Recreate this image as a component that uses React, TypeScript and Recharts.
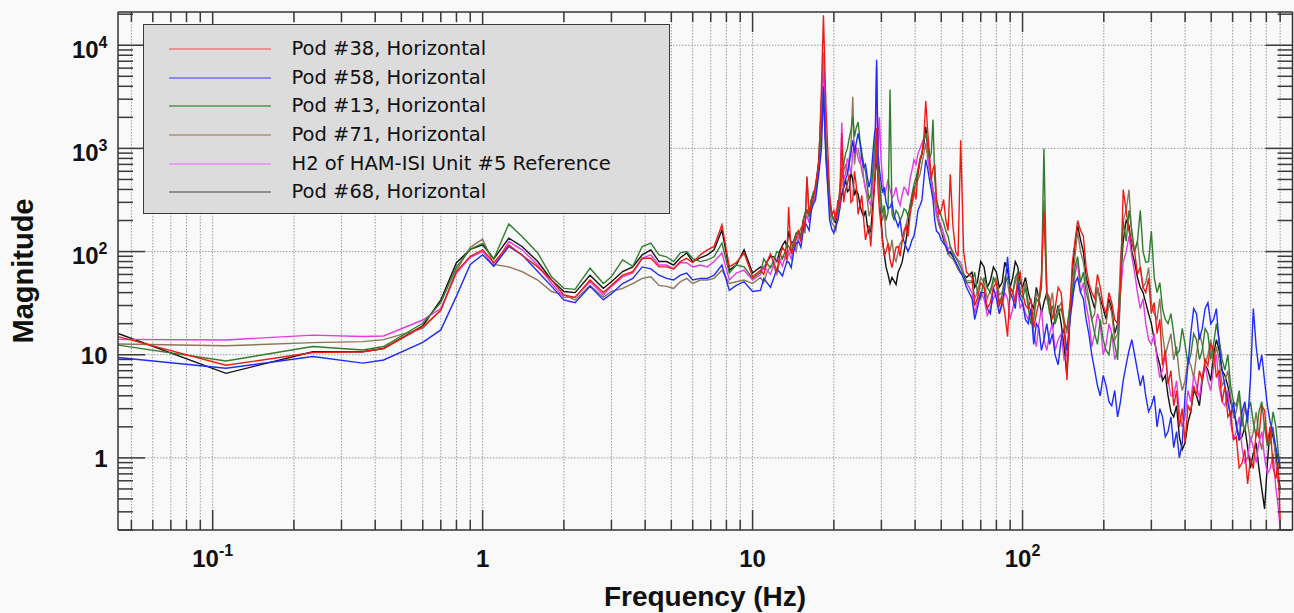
import React from 'react';
import { LineChart, Line, XAxis, YAxis, CartesianGrid, Legend, Label } from 'recharts';

// ---------------- data ----------------
const FREQ_HZ = [
  0.0446, 0.112, 0.235, 0.36, 0.43, 0.6, 0.7,
  0.8, 0.9, 1.0, 1.1, 1.25, 1.4, 1.6, 1.8, 2.0, 2.2, 2.5, 2.8, 3.0,
  3.3, 3.6, 3.9, 4.2, 4.5, 4.8, 5.1, 5.4, 5.7, 6.0, 6.4, 6.8, 7.2, 7.7, 8.2, 8.7, 9.3, 10,
  10.7, 11.0, 11.3, 11.65, 12, 12.3, 12.6, 12.9, 13.2, 13.4,
  13.6, 13.9, 14.2, 14.5, 14.8, 15.1, 15.4, 15.65, 15.9, 16.2,
  16.5, 16.8, 17.1, 17.6, 18.0, 18.3, 18.7, 19.3, 19.65, 20,
  20.35, 20.7, 21.05, 21.4, 21.75, 22.1, 22.45, 22.8, 23.15, 23.5,
  23.85, 24.2, 24.6, 25, 25.4, 25.8, 26.2, 26.6, 27.0, 27.4,
  27.8, 28.2, 28.5, 28.8, 29.15, 29.5, 29.9, 30.3, 30.75, 31.2,
  31.75, 32.3, 32.85, 33.4, 34.0, 34.6, 35.2, 35.8, 36.4, 37,
  37.65, 38.3, 38.95, 39.6, 40.3, 41, 41.7, 42.4, 43.1, 43.8,
  44.5, 45.2, 45.9, 46.6, 47.3, 48, 49, 50, 51, 52,
  53, 54, 55.2, 56.5, 57.7, 59, 60.5, 62,
  65, 66.5, 68, 70, 72, 74, 76, 78, 80, 82,
  84, 86, 88, 90, 92, 94, 96, 98, 100, 102.5,
  105, 107.5, 110, 112.5, 115, 117.5, 120, 123, 126, 129,
  132, 135.5, 139, 142.5, 146, 149.5, 153, 156.5, 160, 164,
  168, 172, 176, 180.5, 185, 189.5, 194, 199, 204, 209,
  214, 219.5, 225, 230.5, 236, 242, 248, 254, 260, 266.5,
  273, 279.5, 286, 293, 300, 307.5, 315, 322.5, 330, 338,
  346, 354.5, 363, 372, 381, 390.5, 400, 410, 420, 430.5,
  441, 452, 463, 474.5, 486, 498, 510, 522.5, 535, 548.5,
  562, 576, 590, 604.5, 619, 634.5, 650, 666, 682, 699,
  716, 733.5, 751, 769.5, 788, 807.5, 827, 847.5, 868, 884, 900,
];

const POD38_H = [
  15, 7.9, 10.5, 10.7, 11.5, 18.7, 27, 64, 90, 104, 78, 116, 92, 71, 53, 38, 36, 53, 40, 47,
  59, 64, 86, 86, 71, 71, 68, 80, 86, 78, 93, 104, 112, 182, 71, 78, 97, 57,
  66, 60, 79, 95, 76, 65, 89, 110, 100, 85,
  270, 95, 112, 135, 158, 125, 200, 170, 525, 230,
  282, 330, 447, 708, 3980, 19500, 2510, 355, 230, 251,
  200, 316, 260, 1410, 300, 398, 450, 562, 300, 316,
  600, 447, 230, 282, 350, 200, 130, 158, 180, 112,
  200, 398, 600, 1580, 400, 251, 180, 126, 90, 100,
  120, 83, 70, 89, 110, 112, 90, 126, 160, 178,
  140, 224, 300, 398, 320, 603, 800, 891, 1300, 2880,
  1500, 891, 500, 631, 700, 316, 230, 251, 320, 200,
  160, 562, 180, 100, 90, 1200, 100, 63,
  56, 30, 35, 50, 45, 28, 32, 45, 50, 30,
  35, 25, 15, 45, 40, 32, 56, 63, 40, 30,
  28, 35, 18, 25, 32, 60, 251, 40, 35, 22,
  28, 45, 40, 20, 5.7, 25, 79, 126, 200, 160,
  141, 70, 50, 40, 35, 60, 45, 30, 25, 40,
  32, 22, 20, 45, 398, 250, 158, 120, 100, 60,
  71, 45, 40, 55, 25, 32, 16, 22, 7.9, 11,
  5.2, 7, 3.2, 4.5, 2.0, 3.0, 1.4, 3.2, 2.8, 5.0,
  4.0, 7.0, 5.6, 9.0, 7.9, 13, 11, 6, 7.1, 3.5,
  5.0, 2.5, 2.8, 1.5, 1.6, 0.8, 0.89, 1.2, 0.56, 1.0,
  0.79, 1.8, 1.6, 3.2, 2.9, 1.4, 2.0, 0.8, 0.63, 0.9, 0.25,
];

const POD58_H = [
  9.4, 7.4, 9.6, 8.3, 8.9, 13.2, 17.4, 37, 75, 93, 72, 112, 93, 64, 46, 34, 32, 46, 34, 39,
  49, 55, 71, 68, 59, 55, 53, 59, 62, 53, 55, 55, 59, 74, 42, 47, 51, 41,
  42, 55, 50, 45, 56, 68, 63, 58, 71, 80,
  79, 70, 100, 120, 126, 110, 158, 190, 178, 160,
  251, 290, 316, 575, 1000, 3980, 794, 200, 165, 151,
  180, 200, 260, 355, 420, 501, 560, 708, 900, 1200,
  900, 1120, 1400, 1120, 800, 661, 700, 537, 420, 501,
  800, 1260, 1600, 7240, 900, 631, 480, 372, 420, 302,
  260, 269, 300, 224, 200, 174, 200, 141, 125, 112,
  100, 112, 130, 141, 180, 251, 280, 316, 500, 776,
  640, 501, 400, 316, 200, 158, 150, 129, 120, 112,
  100, 96, 90, 79, 72, 63, 55, 45,
  35, 22, 28, 40, 40, 28, 25, 45, 35, 25,
  32, 45, 89, 40, 35, 28, 50, 35, 32, 22,
  20, 28, 12.6, 20, 18, 11, 14, 20, 12.6, 16,
  10, 8, 14, 18, 11, 20, 35, 50, 56, 40,
  35, 22, 16, 10, 7.1, 5.0, 4.0, 6.3, 5.0, 3.5,
  3.2, 4.5, 2.5, 3.5, 5.6, 8, 11, 14, 10, 7,
  5.0, 6.3, 4.0, 2.8, 3.2, 4.0, 2.0, 3.0, 2.5, 1.6,
  1.8, 2.5, 1.26, 1.8, 1.0, 1.4, 4.0, 8, 16, 28,
  25, 14, 18, 28, 32, 20, 22, 28, 12.6, 7,
  5.0, 3.5, 2.5, 3.5, 2.0, 1.5, 2.8, 3.5, 2.2, 6,
  28, 12, 7.1, 10, 5.6, 3.2, 2.2, 1.8, 1.26, 1.0, 0.79,
];

const POD13_H = [
  12.4, 8.7, 12, 11.1, 12, 20.2, 32, 71, 105, 120, 85, 185, 140, 97, 57, 44, 43, 69, 49, 57,
  83, 72, 112, 121, 93, 89, 80, 97, 100, 86, 80, 83, 89, 121, 62, 74, 71, 55,
  63, 85, 76, 70, 83, 100, 96, 85, 100, 120,
  112, 100, 126, 150, 158, 140, 200, 240, 251, 220,
  316, 380, 398, 708, 1580, 3550, 1000, 282, 230, 200,
  210, 251, 400, 631, 700, 891, 1000, 1260, 1500, 2040,
  1300, 1580, 1800, 1200, 900, 708, 600, 427, 320, 355,
  560, 891, 1300, 1120, 700, 490, 330, 234, 280, 200,
  240, 3720, 230, 204, 250, 234, 200, 224, 260, 251,
  220, 282, 360, 447, 520, 631, 760, 891, 1200, 1410,
  1100, 794, 900, 1900, 500, 316, 260, 219, 190, 158,
  140, 112, 95, 89, 80, 71, 60, 50,
  50, 63, 40, 35, 56, 45, 40, 56, 50, 32,
  38, 50, 56, 45, 40, 56, 63, 40, 35, 45,
  28, 20, 22, 35, 32, 45, 1000, 40, 25, 30,
  20, 25, 28, 20, 18, 28, 40, 71, 89, 50,
  63, 40, 32, 22, 16, 12.6, 22, 14, 11, 10,
  16, 12.6, 8.9, 40, 200, 126, 251, 160, 100, 126,
  251, 100, 79, 80, 158, 56, 40, 50, 28, 22,
  20, 25, 16, 10, 11, 18, 12.6, 8, 10, 16,
  14, 9, 11, 18, 16, 9, 12.6, 20, 14, 9,
  7.1, 10, 5.0, 3.5, 3.2, 4.5, 2.5, 1.8, 2.8, 3.5,
  2.2, 1.6, 2.8, 3.5, 2.0, 1.3, 1.6, 2.8, 2.0, 1.2, 0.79,
];

const POD71_H = [
  12.7, 12.2, 13.1, 13.4, 14, 18, 27, 66, 110, 132, 75, 71, 64, 53, 41, 38, 34, 47, 36, 41,
  44, 49, 55, 57, 47, 46, 44, 51, 55, 49, 53, 53, 55, 66, 49, 51, 53, 49,
  56, 50, 63, 72, 71, 60, 79, 90, 89, 80,
  100, 120, 112, 100, 141, 170, 178, 150, 537, 210,
  251, 300, 355, 631, 1580, 3160, 794, 251, 190, 178,
  160, 224, 330, 501, 600, 708, 560, 794, 1100, 3160,
  700, 1000, 1000, 794, 600, 501, 420, 316, 220, 251,
  420, 631, 1000, 891, 560, 398, 260, 200, 250, 141,
  120, 100, 130, 89, 80, 100, 120, 126, 140, 178,
  220, 251, 280, 355, 450, 501, 560, 708, 900, 1120,
  800, 631, 500, 355, 300, 224, 180, 158, 140, 112,
  95, 89, 85, 76, 68, 63, 58, 52,
  52, 35, 40, 56, 50, 35, 42, 50, 56, 38,
  40, 56, 50, 35, 40, 50, 60, 42, 40, 50,
  32, 25, 25, 40, 35, 50, 316, 35, 28, 40,
  22, 28, 32, 22, 16, 30, 50, 90, 158, 100,
  79, 50, 35, 22, 25, 45, 32, 20, 20, 32,
  25, 14, 16, 80, 200, 250, 398, 140, 100, 126,
  71, 45, 50, 70, 32, 25, 22, 35, 16, 10,
  12.6, 16, 8.9, 12, 6.3, 4.5, 5.6, 9, 7.9, 6,
  10, 16, 12.6, 8, 10, 14, 7.9, 12, 8.9, 5,
  5.6, 7, 4.0, 2.5, 2.8, 4, 2.0, 3.2, 2.2, 1.4,
  1.8, 2.8, 1.6, 1.2, 2.2, 1.6, 1.4, 2.0, 0.89, 0.6, 0.45,
];

const H2_REF = [
  14.1, 13.9, 15.5, 15, 15.2, 21.7, 28, 62, 88, 100, 72, 125, 104, 74, 49, 36, 36, 51, 38, 46,
  57, 62, 86, 93, 74, 74, 68, 78, 78, 71, 74, 71, 80, 97, 53, 62, 66, 53,
  60, 72, 66, 60, 76, 85, 83, 72, 89, 100,
  100, 85, 112, 130, 141, 125, 178, 200, 224, 190,
  282, 320, 355, 631, 2510, 8510, 891, 282, 220, 200,
  240, 282, 380, 1780, 500, 562, 800, 708, 560, 891,
  1100, 1000, 800, 708, 900, 501, 400, 355, 300, 282,
  420, 794, 1200, 6310, 900, 2000, 800, 501, 350, 398,
  500, 398, 330, 355, 420, 316, 280, 355, 420, 398,
  350, 501, 620, 776, 700, 891, 1000, 1120, 1250, 1410,
  1000, 631, 500, 398, 330, 251, 200, 178, 150, 126,
  105, 112, 100, 89, 82, 79, 62, 50,
  40, 25, 32, 40, 35, 24, 28, 35, 40, 25,
  30, 40, 35, 22, 28, 38, 45, 28, 32, 25,
  22, 28, 16, 12, 20, 28, 14, 11, 16, 20,
  11, 14, 16, 9, 10, 22, 32, 60, 79, 40,
  50, 30, 22, 12, 16, 25, 20, 10, 12.6, 20,
  16, 9, 11, 40, 79, 100, 141, 90, 63, 40,
  28, 35, 20, 14, 12.6, 16, 8.9, 6, 7.1, 10,
  5.6, 4, 4.0, 5.6, 2.8, 2.0, 2.5, 4.5, 3.5, 6.3,
  5.0, 3.8, 6.3, 8, 5.6, 4.5, 7.6, 10, 5.0, 3.5,
  3.2, 4.5, 2.2, 1.5, 1.8, 2.5, 1.26, 0.9, 1.0, 1.6,
  1.26, 0.9, 1.4, 1.8, 1.0, 0.7, 0.79, 1.1, 0.5, 0.35, 0.2,
];

const POD68_H = [
  16.1, 6.6, 10.7, 10.7, 11.5, 19, 34, 78, 105, 116, 85, 135, 112, 80, 53, 41, 40, 59, 44, 51,
  64, 71, 93, 104, 80, 80, 74, 87, 97, 80, 87, 93, 104, 162, 66, 74, 104, 62,
  71, 68, 79, 90, 89, 80, 100, 115, 126, 110,
  158, 120, 126, 150, 158, 140, 200, 230, 251, 220,
  316, 360, 398, 794, 2820, 7940, 1000, 316, 230, 200,
  190, 251, 320, 355, 420, 501, 380, 398, 600, 490,
  350, 398, 360, 282, 240, 219, 250, 178, 150, 158,
  260, 398, 600, 794, 560, 427, 220, 129, 95, 71,
  60, 49, 56, 52, 48, 63, 70, 79, 100, 126,
  180, 269, 330, 398, 450, 575, 750, 891, 1100, 1620,
  1000, 708, 500, 398, 330, 251, 200, 158, 130, 112,
  95, 100, 90, 79, 68, 62, 60, 56,
  63, 45, 50, 80, 71, 45, 52, 71, 63, 45,
  50, 79, 66, 45, 56, 80, 71, 50, 45, 56,
  40, 32, 28, 45, 35, 25, 32, 40, 28, 18,
  22, 30, 20, 12, 6.3, 20, 63, 120, 178, 130,
  100, 56, 45, 35, 28, 45, 35, 28, 22, 35,
  28, 16, 20, 56, 126, 200, 178, 100, 79, 56,
  45, 40, 32, 25, 20, 14, 10, 8, 5.6, 6.3,
  4.0, 2.8, 2.5, 3.2, 1.6, 1.2, 1.4, 2.2, 2.8, 4.5,
  4.0, 3.2, 5.6, 8, 7.1, 5.6, 10, 14, 11, 7,
  6.3, 5, 3.5, 2.8, 2.2, 1.5, 1.6, 2.0, 1.26, 0.8,
  1.12, 1.4, 0.79, 0.5, 0.32, 0.9, 2.0, 1.6, 1.12, 0.7, 0.5,
];

// ticks
const X_DOMAIN = [0.0446, 1000];
const Y_DOMAIN = [0.2, 21000];
const X_MAJOR_TICKS = [0.1, 1, 10, 100];
const X_TICK_BASE = ['10', '1', '10', '10'];
const X_TICK_EXP = ['-1', '', '', '2'];
const X_MINOR_TICKS = [
  0.05, 0.06, 0.07, 0.08, 0.09,
  0.2, 0.3, 0.4, 0.5, 0.6, 0.7, 0.8, 0.9,
  2, 3, 4, 5, 6, 7, 8, 9,
  20, 30, 40, 50, 60, 70, 80, 90,
  200, 300, 400, 500, 600, 700, 800, 900,
];
const Y_MAJOR_TICKS = [1, 10, 100, 1000, 10000];
const Y_TICK_BASE = ['1', '10', '10', '10', '10'];
const Y_TICK_EXP = ['', '', '2', '3', '4'];
const Y_MINOR_TICKS = [
  0.2, 0.3, 0.4, 0.5, 0.6, 0.7, 0.8, 0.9,
  2, 3, 4, 5, 6, 7, 8, 9,
  20, 30, 40, 50, 60, 70, 80, 90,
  200, 300, 400, 500, 600, 700, 800, 900,
  2000, 3000, 4000, 5000, 6000, 7000, 8000, 9000,
  20000,
];
const X_GRID = [...X_MINOR_TICKS, ...X_MAJOR_TICKS].sort((a, b) => a - b);
const Y_GRID = Y_MAJOR_TICKS;

const SERIES = [
  { key: 'pod38', name: 'Pod #38, Horizontal', values: POD38_H, color: '#ec1c14', legendColor: '#e99490' },
  { key: 'pod58', name: 'Pod #58, Horizontal', values: POD58_H, color: '#1f2ef5', legendColor: '#8a8cf0' },
  { key: 'pod13', name: 'Pod #13, Horizontal', values: POD13_H, color: '#2f7d2f', legendColor: '#73a673' },
  { key: 'pod71', name: 'Pod #71, Horizontal', values: POD71_H, color: '#8c7558', legendColor: '#bba58e' },
  { key: 'h2ref', name: 'H2 of HAM-ISI Unit #5 Reference', values: H2_REF, color: '#e23be6', legendColor: '#e7a0ec' },
  { key: 'pod68', name: 'Pod #68, Horizontal', values: POD68_H, color: '#111111', legendColor: '#8f8f8f' },
];
const DRAW_ORDER = ['pod68', 'pod71', 'h2ref', 'pod13', 'pod58', 'pod38'];

const data = FREQ_HZ.map((f, i) => {
  const row: Record<string, number> = { f };
  SERIES.forEach((s) => {
    row[s.key] = s.values[i];
  });
  return row;
});

// ---------------- rendering ----------------
const FONT_AXIS = '"Liberation Sans", Arial, Helvetica, sans-serif';
const FONT_LEGEND = '"DejaVu Sans", Verdana, sans-serif';
const FRAME = { stroke: '#333333', strokeWidth: 1.5 };
const TICKLINE = { stroke: '#3a3a3a', strokeWidth: 1.5 };
const THIN = 0.001; // mirrored tick-only axes take (almost) no room, so they don't stack

function EmptyTick() {
  return <g />;
}

function XTick(props: any) {
  const { x, y, payload } = props;
  const i = X_MAJOR_TICKS.indexOf(payload.value);
  if (i < 0) return <g />;
  const exp = X_TICK_EXP[i];
  return (
    <text x={x} y={y + 37} textAnchor="middle" fontFamily={FONT_AXIS} fontWeight={700} fontSize={24} fill="#111">
      <tspan>{X_TICK_BASE[i]}</tspan>
      {exp ? (
        <tspan dy={-11} fontSize={16}>
          {exp}
        </tspan>
      ) : null}
    </text>
  );
}

function YTick(props: any) {
  const { x, y, payload } = props;
  const i = Y_MAJOR_TICKS.indexOf(payload.value);
  if (i < 0) return <g />;
  const exp = Y_TICK_EXP[i];
  return (
    <text x={x} y={y + (exp ? 12.5 : 9.5)} textAnchor="end" fontFamily={FONT_AXIS} fontWeight={700} fontSize={24} fill="#111">
      <tspan>{Y_TICK_BASE[i]}</tspan>
      {exp ? (
        <tspan dy={-10} fontSize={16}>
          {exp}
        </tspan>
      ) : null}
    </text>
  );
}

function LegendBox() {
  return (
    <div
      style={{
        width: 527,
        height: 190,
        boxSizing: 'border-box',
        background: '#dcdcdc',
        border: '1.5px solid #3a3a3a',
        position: 'relative',
        fontFamily: FONT_LEGEND,
        fontSize: 19.5,
        color: '#111',
      }}
    >
      {SERIES.map((s, i) => (
        <div
          key={s.key}
          style={{
            position: 'absolute',
            left: 0,
            top: 25.3 + i * 28.7 - 1.5 - 14,
            height: 28,
            display: 'flex',
            alignItems: 'center',
          }}
        >
          <div style={{ marginLeft: 24.5, width: 102, height: 2, background: s.legendColor }} />
          <span style={{ marginLeft: 21, lineHeight: '28px', whiteSpace: 'nowrap' }}>{s.name}</span>
        </div>
      ))}
    </div>
  );
}

export default function App() {
  const ordered = DRAW_ORDER.map((k) => SERIES.find((s) => s.key === k)!);
  const xTickAxis = (id: string, ticks: number[], orientation: 'top' | 'bottom', size: number, frame: boolean) => (
    <XAxis
      key={id}
      xAxisId={id}
      dataKey="f"
      type="number"
      scale="log"
      domain={X_DOMAIN}
      allowDataOverflow
      ticks={ticks}
      interval={0}
      mirror
      orientation={orientation}
      height={THIN}
      tickSize={size}
      tick={<EmptyTick />}
      axisLine={frame ? FRAME : false}
      tickLine={TICKLINE}
    />
  );
  const yTickAxis = (id: string, ticks: number[], orientation: 'left' | 'right', size: number, frame: boolean) => (
    <YAxis
      key={id}
      yAxisId={id}
      type="number"
      scale="log"
      domain={Y_DOMAIN}
      allowDataOverflow
      ticks={ticks}
      interval={0}
      mirror
      orientation={orientation}
      width={THIN}
      tickSize={size}
      tick={<EmptyTick />}
      axisLine={frame ? FRAME : false}
      tickLine={TICKLINE}
    />
  );
  return (
    <div style={{ position: 'absolute', left: 0, top: 0, width: 1294, height: 613, background: '#f9f9f9' }}>
      <LineChart width={1294} height={613} data={data} margin={{ top: 12, right: 1.5, bottom: 43, left: 58 }}>
        <CartesianGrid
          xAxisId="x"
          yAxisId="y"
          stroke="#9a9a9a"
          strokeDasharray="1.5 1.5"
          verticalValues={X_GRID}
          horizontalValues={Y_GRID}
        />
        {/* main axes with labels */}
        <XAxis
          xAxisId="x"
          dataKey="f"
          type="number"
          scale="log"
          domain={X_DOMAIN}
          allowDataOverflow
          ticks={X_MAJOR_TICKS}
          interval={0}
          tickLine={false}
          tickSize={0}
          tickMargin={0}
          axisLine={FRAME}
          height={40}
          tick={<XTick />}
        >
          <Label
            content={() => (
              <text x={705} y={606} textAnchor="middle" fontFamily={FONT_AXIS} fontWeight={700} fontSize={28} fill="#111">
                Frequency (Hz)
              </text>
            )}
          />
        </XAxis>
        <YAxis
          yAxisId="y"
          type="number"
          scale="log"
          domain={Y_DOMAIN}
          allowDataOverflow
          ticks={Y_MAJOR_TICKS}
          interval={0}
          tickLine={false}
          tickSize={0}
          tickMargin={10.5}
          axisLine={FRAME}
          width={60}
          tick={<YTick />}
        >
          <Label
            content={() => (
              <text
                transform="translate(33,271) rotate(-90)"
                textAnchor="middle"
                fontFamily={FONT_AXIS}
                fontWeight={700}
                fontSize={29}
                fill="#111"
              >
                Magnitude
              </text>
            )}
          />
        </YAxis>

        {xTickAxis('bMaj', X_MAJOR_TICKS, 'bottom', 20, false)}
        {xTickAxis('bMin', X_MINOR_TICKS, 'bottom', 10, false)}
        {xTickAxis('tMaj', X_MAJOR_TICKS, 'top', 20, true)}
        {xTickAxis('tMin', X_MINOR_TICKS, 'top', 10, false)}
        {yTickAxis('lMaj', Y_MAJOR_TICKS, 'left', 27, false)}
        {yTickAxis('lMin', Y_MINOR_TICKS, 'left', 15, false)}
        {yTickAxis('rMaj', Y_MAJOR_TICKS, 'right', 27, true)}
        {yTickAxis('rMin', Y_MINOR_TICKS, 'right', 15, false)}

        {ordered.map((s) => (
          <Line
            key={s.key}
            xAxisId="x"
            yAxisId="y"
            type="linear"
            dataKey={s.key}
            name={s.name}
            stroke={s.color}
            strokeWidth={1.4}
            dot={false}
            activeDot={false}
            isAnimationActive={false}
          />
        ))}

        <Legend
          layout="vertical"
          align="center"
          verticalAlign="middle"
          wrapperStyle={{ left: 143, top: 24, width: 527, height: 190, right: 'auto', bottom: 'auto' }}
          content={() => <LegendBox />}
        />
      </LineChart>
    </div>
  );
}
